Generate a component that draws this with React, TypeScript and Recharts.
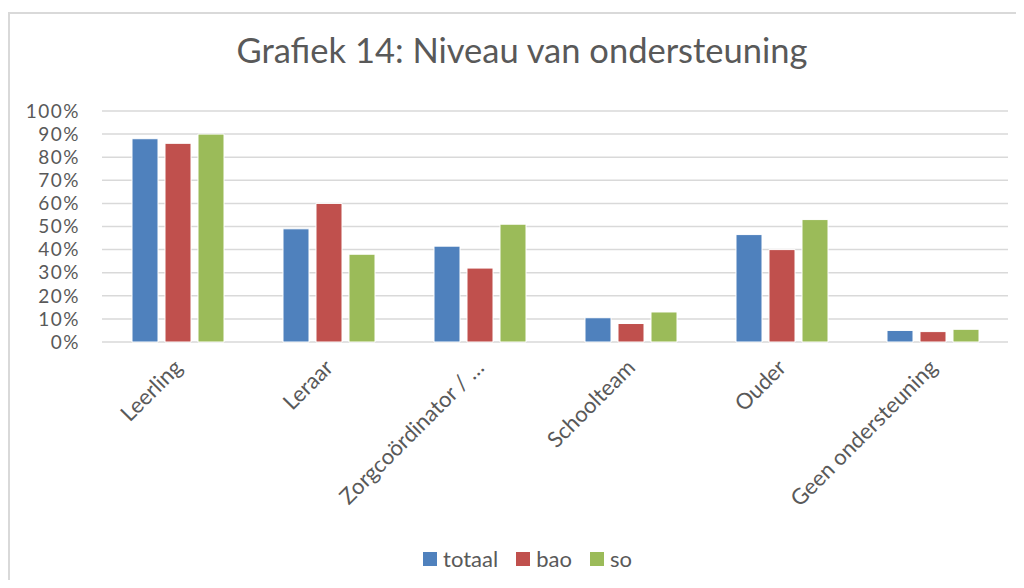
import { BarChart, Bar, XAxis, YAxis, CartesianGrid, Legend } from 'recharts';

const categories = ['Leerling', 'Leraar', 'Zorgcoördinator / …', 'Schoolteam', 'Ouder', 'Geen ondersteuning'];
const totaal = [88, 49, 41.5, 10.5, 46.5, 5];
const bao = [86, 60, 32, 8, 40, 4.5];
const so = [90, 38, 51, 13, 53, 5.5];
const yTicks = [0, 10, 20, 30, 40, 50, 60, 70, 80, 90, 100];

const series = [
  { key: 'totaal', color: '#4f81bd' },
  { key: 'bao', color: '#c0504d' },
  { key: 'so', color: '#9bbb59' },
];

const data = categories.map((name, i) => ({ name, totaal: totaal[i], bao: bao[i], so: so[i] }));

const font = 'Lato, sans-serif';
const textColor = '#595959';

const CategoryTick = (props: any) => {
  const { x, y, payload } = props;
  const tx = x + 6;
  const ty = y + 27;
  return (
    <text
      x={tx}
      y={ty}
      transform={`rotate(-45 ${tx} ${ty})`}
      textAnchor="end"
      fill={textColor}
      fontSize={22}
      fontFamily={font}
    >
      {payload.value}
    </text>
  );
};

const LegendContent = () => (
  <div style={{ display: 'flex', justifyContent: 'center', alignItems: 'center', marginLeft: 49, fontFamily: font, fontSize: 22, color: textColor }}>
    {series.map((s) => (
      <div key={s.key} style={{ display: 'flex', alignItems: 'center', marginRight: 18 }}>
        <span style={{ width: 14, height: 14, background: s.color, marginRight: 6, display: 'inline-block' }} />
        <span>{s.key}</span>
      </div>
    ))}
  </div>
);

export default function App() {
  return (
    <div style={{ position: 'relative', width: 1024, height: 588, margin: -8, background: '#fff', overflow: 'hidden' }}>
      <div
        style={{
          position: 'absolute',
          left: 8,
          top: 12,
          width: 1030,
          height: 590,
          borderLeft: '2px solid #d9d9d9',
          borderTop: '2px solid #d9d9d9',
        }}
      />
      <svg style={{ position: 'absolute', left: 0, top: 0 }} width={1024} height={90}>
        <text x={522} y={63} textAnchor="middle" fill={textColor} fontSize={34.5} fontFamily={font}>
          Grafiek 14: Niveau van ondersteuning
        </text>
      </svg>
      <div style={{ position: 'absolute', left: 0, top: 0 }}>
        <BarChart
          width={1024}
          height={588}
          data={data}
          margin={{ top: 111, right: 16, bottom: 0, left: 42 }}
          barSize={26}
          barGap={7}
        >
          <CartesianGrid vertical={false} stroke="#d9d9d9" strokeWidth={1.5} />
          <XAxis
            dataKey="name"
            height={246}
            interval={0}
            tickLine={false}
            axisLine={false}
            tickSize={0}
            tickMargin={0}
            tick={<CategoryTick />}
          />
          <YAxis
            width={60}
            domain={[0, 100]}
            ticks={yTicks}
            interval={0}
            tickFormatter={(v: number) => `${v}%`}
            tickLine={false}
            axisLine={false}
            tickSize={0}
            tickMargin={22}
            tick={{ fill: textColor, fontSize: 19, fontFamily: font, letterSpacing: 1.5 }}
          />
          <Legend verticalAlign="middle" content={<LegendContent />} wrapperStyle={{ top: 545, left: 0, width: 1024 }} />
          {series.map((s) => (
            <Bar key={s.key} dataKey={s.key} fill={s.color} stroke="#ffffff" strokeWidth={1} isAnimationActive={false} />
          ))}
        </BarChart>
      </div>
    </div>
  );
}
